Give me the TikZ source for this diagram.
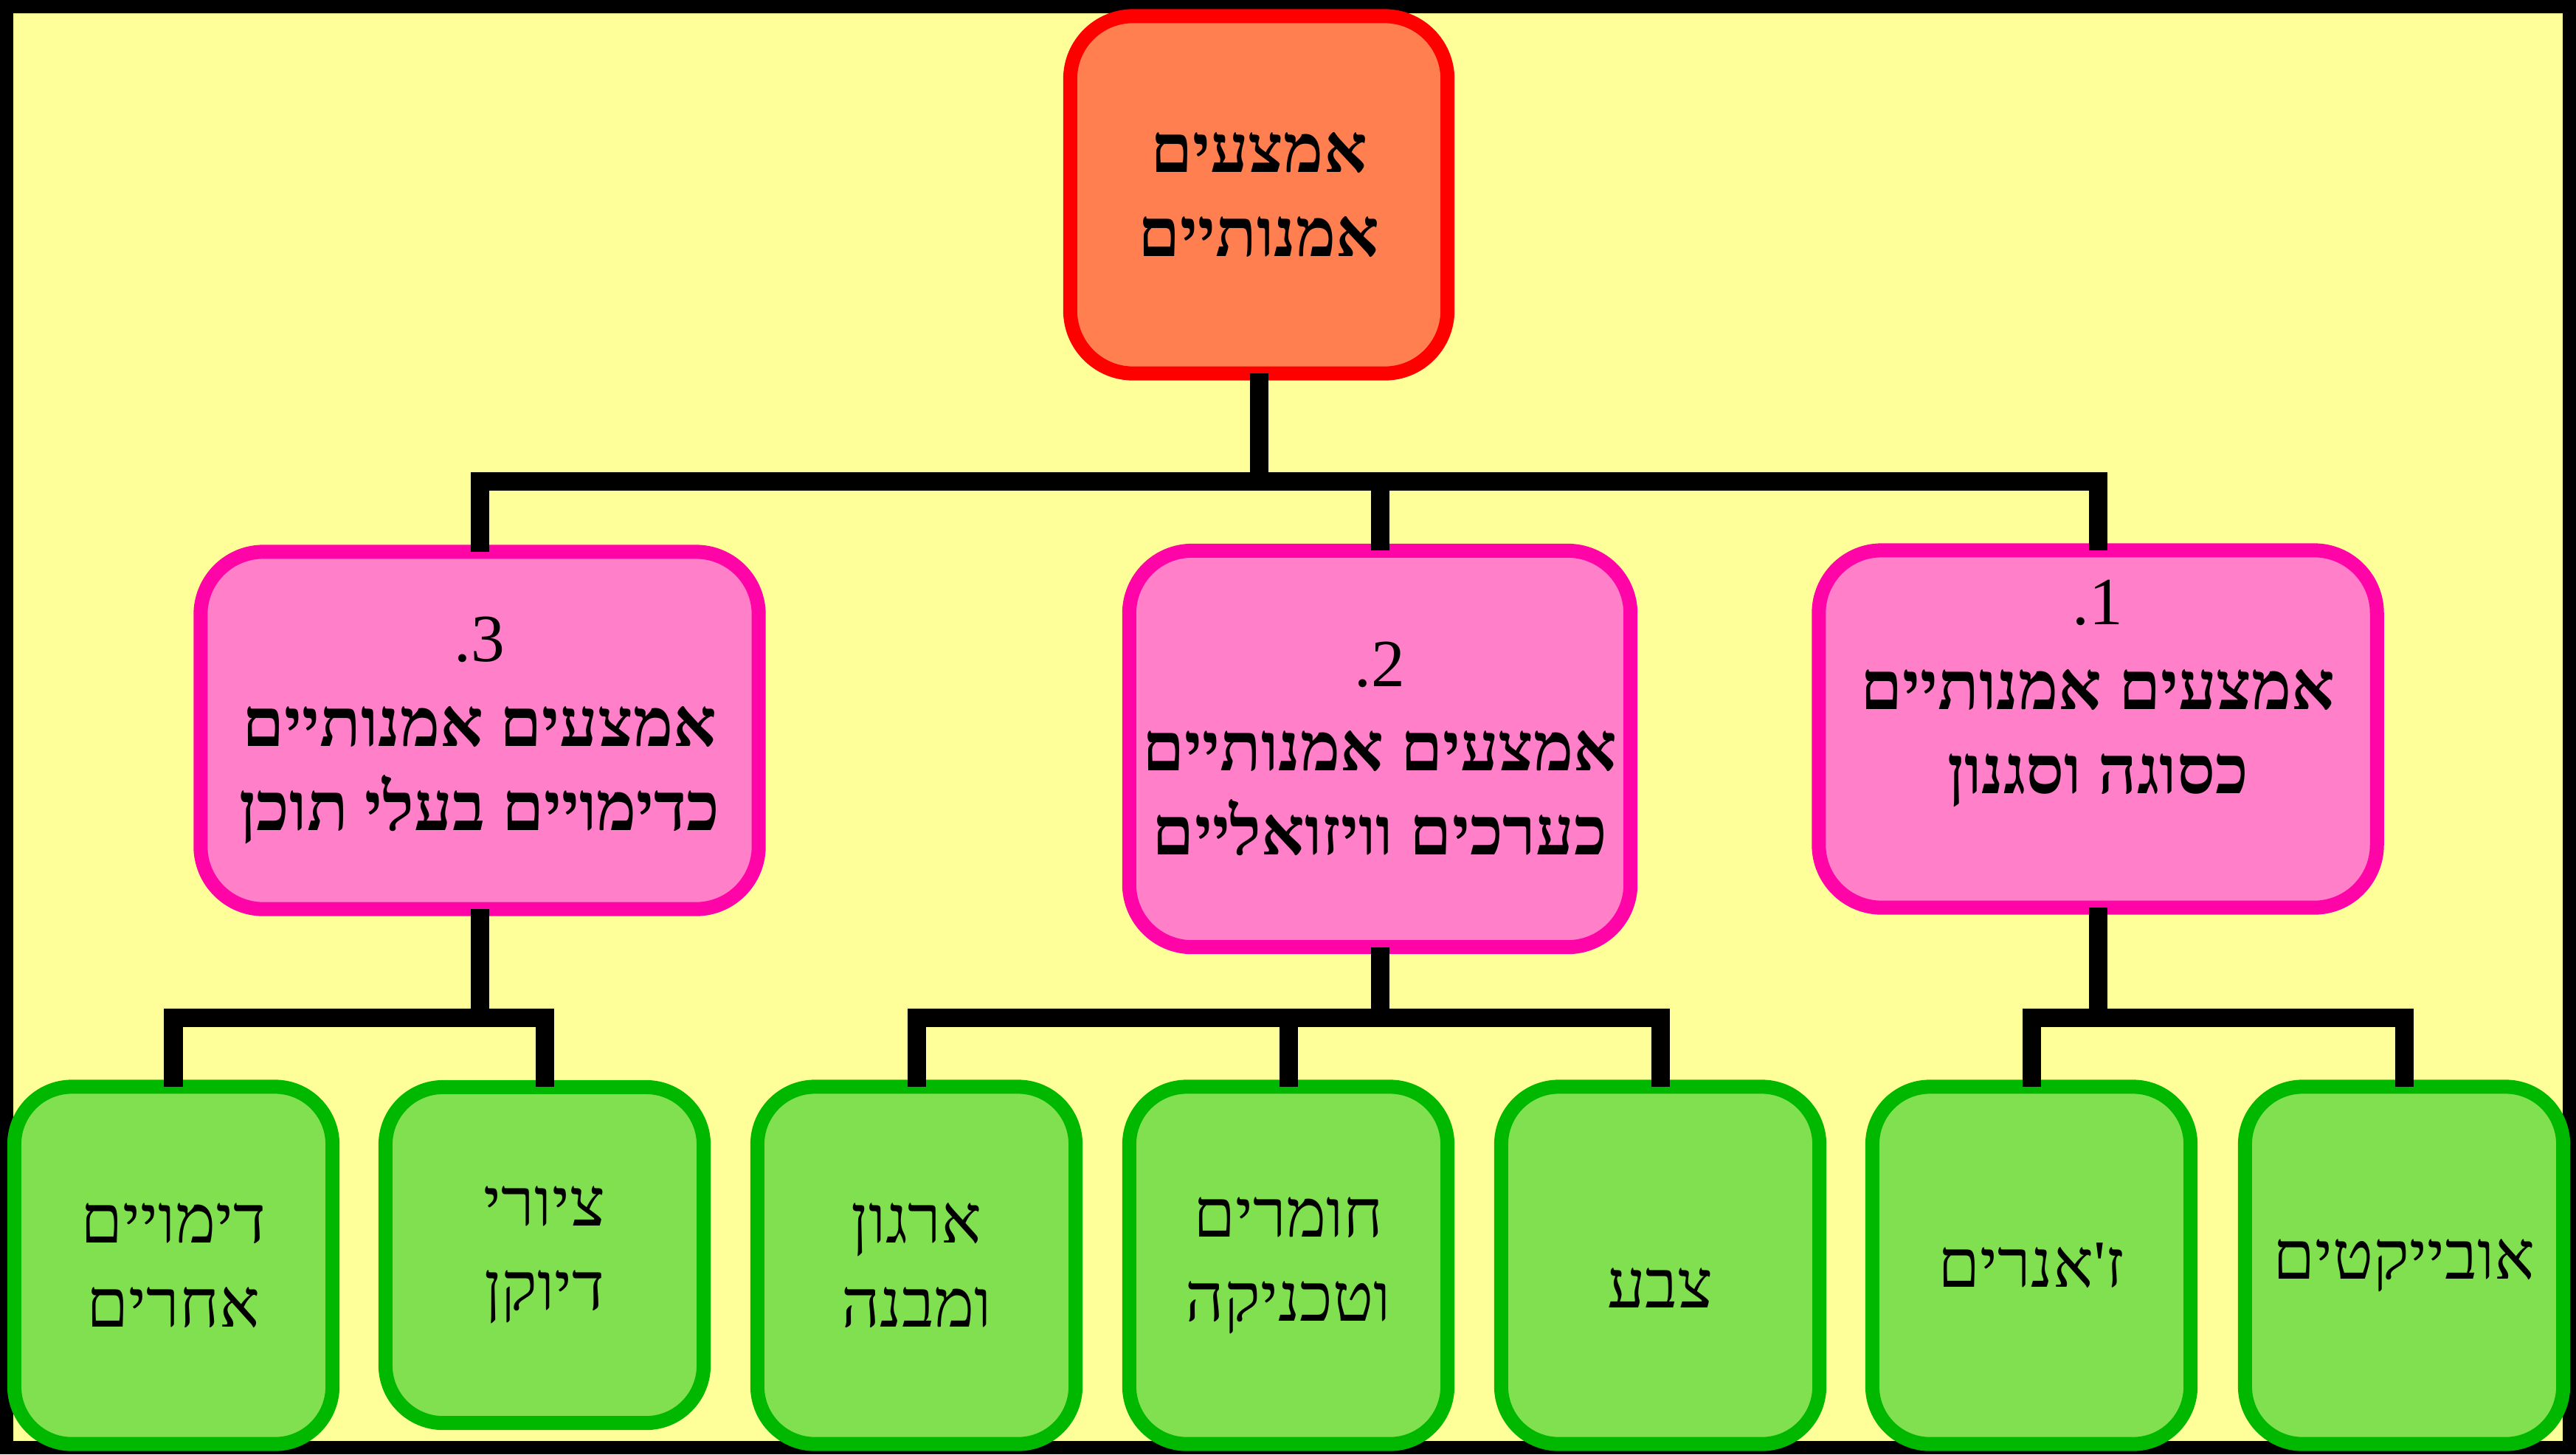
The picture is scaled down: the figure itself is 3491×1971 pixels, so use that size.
\documentclass[tikz,border=0pt]{standalone}
\usepackage{fontspec}
\newfontfamily\hebfont[Script=Hebrew]{Liberation Serif}
\TeXXeTstate=1
\newcommand\hebr[1]{\beginR #1\endR}
\definecolor{bgyellow}{HTML}{FFFF99}
\definecolor{topfill}{HTML}{FF7F50}
\definecolor{topdraw}{HTML}{FF0000}
\definecolor{pinkfill}{HTML}{FF7FC8}
\definecolor{pinkdraw}{HTML}{FF05A8}
\definecolor{greenfill}{HTML}{80E050}
\definecolor{greendraw}{HTML}{00B800}
\begin{document}
\begin{tikzpicture}[x=0.01cm,y=-0.01cm,
  box/.style={draw, rounded corners=0.85cm, line width=0.19cm, align=center, inner sep=0pt, outer sep=0pt,
    font=\hebfont\fontsize{26}{32.5}\selectfont},
  topbox/.style={box, fill=topfill, draw=topdraw, minimum width=5.11cm, minimum height=4.84cm,
    font=\hebfont\bfseries\fontsize{26}{32.5}\selectfont},
  catbox/.style={box, fill=pinkfill, draw=pinkdraw, minimum width=7.56cm, minimum height=4.84cm},
  leafbox/.style={box, fill=greenfill, draw=greendraw, minimum width=4.31cm, minimum height=4.84cm, rounded corners=0.78cm},
  conn/.style={line width=0.25cm, line join=miter, draw=black}
]
\useasboundingbox (0,0) rectangle (3491,1971);
\draw[line width=0.18cm, fill=bgyellow] (9,9) rectangle (3482,1962);

\coordinate (bar1) at (0,652);
\coordinate (bar2) at (0,1379);

\node[topbox] (top) at (1706,264) {\hebr{אמצעים}\\\hebr{אמנותיים}};

\node[catbox] (c3) at (650,990) {\hebr{3.}\\\hebr{\bfseries אמצעים אמנותיים}\\\hebr{\bfseries כדימויים בעלי תוכן}};
\node[catbox, minimum width=6.79cm, minimum height=5.37cm] (c2) at (1870,1015) {\hebr{2.}\\\hebr{\bfseries אמצעים אמנותיים}\\\hebr{\bfseries כערכים וויזואליים}};
\node[catbox] (c1) at (2843,988) {\hebr{1.}\\\hebr{\bfseries אמצעים אמנותיים}\\\hebr{\bfseries כסוגה וסגנון}\\\mbox{}};

\node[leafbox] (l1) at (235,1715) {\hebr{דימויים}\\\hebr{אחרים}};
\node[leafbox, minimum height=4.55cm] (l2) at (738,1701) {\hebr{ציורי}\\\hebr{דיוקן}};
\node[leafbox] (l3) at (1242,1715) {\hebr{ארגון}\\\hebr{ומבנה}};
\node[leafbox] (l4) at (1746,1715) {\hebr{חומרים}\\\hebr{וטכניקה}};
\node[leafbox] (l5) at (2250,1715) {\mbox{}\\\hebr{צבע}};
\node[leafbox] (l6) at (2753,1715) {\hebr{ז'אנרים}};
\node[leafbox] (l7) at (3258,1715) {\hebr{אובייקטים}};

\draw[conn] (top.south) -- (top.south |- bar1) -| (c3.north);
\draw[conn] (top.south) -- (top.south |- bar1) -| (c2.north);
\draw[conn] (top.south) -- (top.south |- bar1) -| (c1.north);

\draw[conn] (c3.south) -- (c3.south |- bar2) -| (l1.north);
\draw[conn] (c3.south) -- (c3.south |- bar2) -| (l2.north);
\draw[conn] (c2.south) -- (c2.south |- bar2) -| (l3.north);
\draw[conn] (c2.south) -- (c2.south |- bar2) -| (l4.north);
\draw[conn] (c2.south) -- (c2.south |- bar2) -| (l5.north);
\draw[conn] (c1.south) -- (c1.south |- bar2) -| (l6.north);
\draw[conn] (c1.south) -- (c1.south |- bar2) -| (l7.north);
\end{tikzpicture}
\end{document}
